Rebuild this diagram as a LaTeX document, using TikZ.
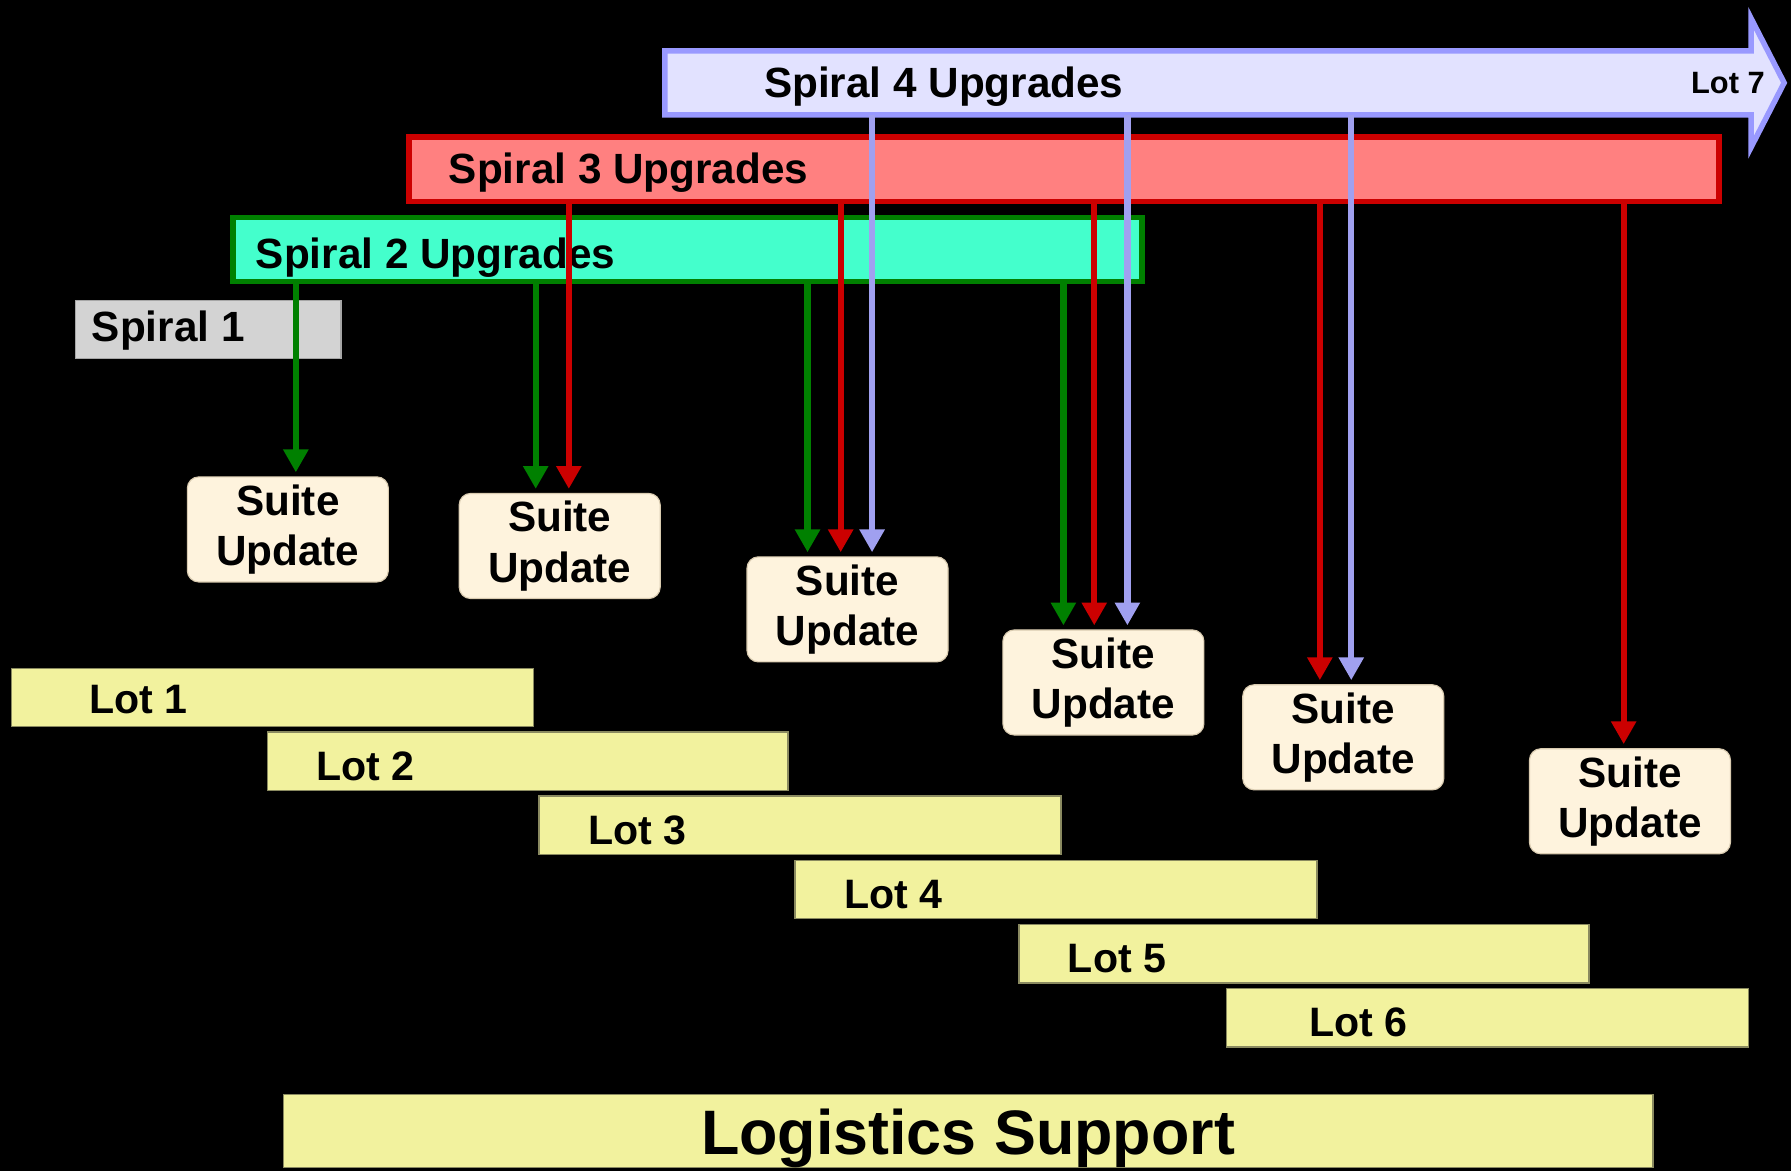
\documentclass[tikz,border=0pt]{standalone}
\usepackage{fontspec}
\setmainfont{Liberation Sans}
\usetikzlibrary{arrows.meta}
\definecolor{sfourfill}{HTML}{E2E2FF}
\definecolor{sfourline}{HTML}{9999FF}
\definecolor{sthreefill}{HTML}{FF8080}
\definecolor{sthreeline}{HTML}{CC0000}
\definecolor{stwofill}{HTML}{44FFCC}
\definecolor{stwoline}{HTML}{008000}
\definecolor{sonefill}{HTML}{D3D3D3}
\definecolor{lotfill}{HTML}{F2F29E}
\definecolor{lotline}{HTML}{8A8A60}
\definecolor{suitefill}{HTML}{FEF3DD}
\definecolor{suiteline}{HTML}{D9CBB0}
\definecolor{garrow}{HTML}{008000}
\definecolor{rarrow}{HTML}{CC0000}
\definecolor{larrow}{HTML}{A0A0F0}
\begin{document}
\begin{tikzpicture}[x=1pt,y=-1pt,
  bar/.style={rectangle, inner sep=0pt, outer sep=0pt},
  lbl/.style={inner sep=0pt, outer sep=0pt, font=\bfseries\fontsize{37}{44}\selectfont},
  lotlbl/.style={inner sep=0pt, outer sep=0pt, anchor=base west, font=\bfseries\fontsize{36}{44}\selectfont},
  lotbar/.style={bar, fill=lotfill, draw=lotline, line width=1.2pt, minimum height=51pt},
  suite/.style={rectangle, rounded corners=10pt, fill=suitefill, draw=suiteline, line width=1pt,
    minimum width=176pt, minimum height=92pt, inner sep=0pt, outer sep=0pt, align=center,
    font=\bfseries\fontsize{37}{44}\selectfont},
  conn/.style={line width=5.5pt, -{Triangle[width=21pt,length=20pt]}, shorten >=4pt},
  gconn/.style={conn, draw=garrow, fill=garrow},
  rconn/.style={conn, draw=rarrow, fill=rarrow},
  lconn/.style={conn, draw=larrow, fill=larrow}
]
\useasboundingbox[fill=black] (0,0) rectangle (1568,1025);

% Spiral 4 arrow
\filldraw[fill=sfourfill, draw=sfourline, line width=4.8pt]
  (582,44.5) -- (1533,44.5) -- (1533,16) -- (1562,72.5) -- (1533,129) -- (1533,100.5) -- (582,100.5) -- cycle;
\node[bar, minimum width=951pt, minimum height=56pt] (s4) at (1057.5,72.5) {};
% Spiral 3
\node[bar, fill=sthreefill, draw=sthreeline, line width=5pt, minimum width=1147pt, minimum height=56.5pt] (s3) at (931.5,148.25) {};
% Spiral 2
\node[bar, fill=stwofill, draw=stwoline, line width=5pt, minimum width=796pt, minimum height=56pt] (s2) at (602,218.5) {};
% Spiral 1
\node[bar, fill=sonefill, draw=gray!70, line width=1pt, minimum width=232.5pt, minimum height=51pt] (s1) at (182.25,288.5) {};

% labels
\node[lbl, anchor=base west] (t4) at (669,85) {Spiral 4 Upgrades};
\node[lbl, anchor=base east, font=\bfseries\fontsize{27}{32}\selectfont] (t7) at (1545,82) {Lot 7};
\node[lbl, anchor=base west] (t3) at (393,161) {Spiral 3 Upgrades};
\node[lbl, anchor=base west] (t2) at (224,235) {Spiral 2 Upgrades};
\node[lbl, anchor=base west] (t1) at (80.5,299) {Spiral 1};

% Suite update boxes
\node[suite] (su1) at (252,463.5) {Suite\\Update};
\node[suite] (su2) at (490,478) {Suite\\Update};
\node[suite] (su3) at (742,533.5) {Suite\\Update};
\node[suite] (su4) at (966,597.5) {Suite\\Update};
\node[suite] (su5) at (1176,645.5) {Suite\\Update};
\node[suite] (su6) at (1427,701.5) {Suite\\Update};

% connectors
\draw[gconn] (s2.south -| 259,0) -- (su1.north -| 259,0);
\draw[gconn] (s2.south -| 469,0) -- (su2.north -| 469,0);
\draw[gconn] (s2.south -| 707,0) -- (su3.north -| 707,0);
\draw[gconn] (s2.south -| 931,0) -- (su4.north -| 931,0);
\draw[rconn] (s3.south -| 498,0) -- (su2.north -| 498,0);
\draw[rconn] (s3.south -| 736,0) -- (su3.north -| 736,0);
\draw[rconn] (s3.south -| 958,0) -- (su4.north -| 958,0);
\draw[rconn] (s3.south -| 1155.5,0) -- (su5.north -| 1155.5,0);
\draw[rconn] (s3.south -| 1421.5,0) -- (su6.north -| 1421.5,0);
\draw[lconn] (s4.south -| 763.5,0) -- (su3.north -| 763.5,0);
\draw[lconn] (s4.south -| 987,0) -- (su4.north -| 987,0);
\draw[lconn] (s4.south -| 1183,0) -- (su5.north -| 1183,0);

% Lots
\node[lotbar, minimum width=457pt] (lot1) at (238.5,610.5) {};
\node[lotbar, minimum width=456pt] (lot2) at (462,666.5) {};
\node[lotbar, minimum width=457pt] (lot3) at (700.5,722.5) {};
\node[lotbar, minimum width=457pt] (lot4) at (924.5,778.75) {};
\node[lotbar, minimum width=499pt] (lot5) at (1141.5,835) {};
\node[lotbar, minimum width=457pt] (lot6) at (1302.5,891) {};
\node[lotlbl] (l1) at (78,624.5) {Lot 1};
\node[lotlbl] (l2) at (277,683) {Lot 2};
\node[lotlbl] (l3) at (515,739) {Lot 3};
\node[lotlbl] (l4) at (739,795) {Lot 4};
\node[lotlbl] (l5) at (935,851.5) {Lot 5};
\node[lotlbl] (l6) at (1146,907.5) {Lot 6};

% Logistics support
\node[bar, fill=lotfill, draw=lotline, line width=1.2pt, minimum width=1199pt, minimum height=64pt] (log) at (847.5,990) {};
\node[inner sep=0pt, anchor=base, font=\bfseries\fontsize{55}{60}\selectfont] (logt) at (847.5,1011) {Logistics Support};
\end{tikzpicture}
\end{document}
